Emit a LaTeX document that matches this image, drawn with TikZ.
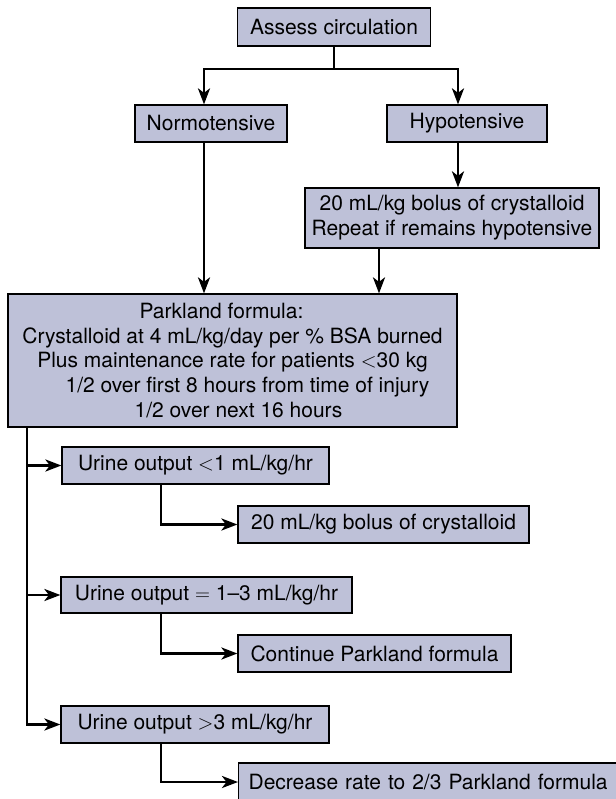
\documentclass[tikz,border=0pt]{standalone}
\usepackage{fontspec}
\setmainfont{TeX Gyre Heros}
\usetikzlibrary{arrows.meta}
\definecolor{boxfill}{RGB}{190,193,216}
\begin{document}
\begin{tikzpicture}[x=1pt,y=-1pt,
  box/.style={draw=black, line width=1.2pt, fill=boxfill, inner sep=0pt,
    font=\fontsize{21}{24.8}\selectfont, align=center},
  conn/.style={line width=2.7pt, line join=miter},
  arr/.style={conn, -{Stealth[length=16pt,width=12pt,inset=4.5pt]}}]
\useasboundingbox[fill=white] (0,0) rectangle (615,799);

\node[box, minimum width=193, minimum height=38] (assess) at (334,27) {Assess circulation};
\node[box, minimum width=152, minimum height=37] (normo) at (211,123.5) {Normotensive};
\node[box, minimum width=160, minimum height=37] (hypo) at (467,123.5) {Hypotensive};
\node[box, minimum width=294, minimum height=60] (bolus) at (452,218)
  {20 mL/kg bolus of crystalloid\\Repeat if remains hypotensive};
\node[box, minimum width=449, minimum height=133] (park) at (232.5,360.5)
  {Parkland formula:\hspace*{22pt}\\
   Crystalloid at 4 mL/kg/day per \% BSA burned\hspace*{10pt}\\
   Plus maintenance rate for patients $<$30 kg\\
   \hspace*{30pt}1/2 over first 8 hours from time of injury\\
   \hspace*{12pt}1/2 over next 16 hours};
\node[box, minimum width=267, minimum height=37] (u1) at (195.5,465.5) {Urine output $<$1 mL/kg/hr};
\node[box, minimum width=291, minimum height=37] (b2) at (383.5,524.5) {20 mL/kg bolus of crystalloid};
\node[box, minimum width=291, minimum height=36] (u2) at (206.5,595) {Urine output $=$ 1–3 mL/kg/hr};
\node[box, minimum width=273, minimum height=37] (cont) at (374.5,653.5) {Continue Parkland formula};
\node[box, minimum width=268, minimum height=37] (u3) at (195,724.5) {Urine output $>$3 mL/kg/hr};
\node[box, anchor=west, minimum height=38, text width=385pt, align=left, inner xsep=10pt] (dec) at (238,782)
  {Decrease rate to 2/3 Parkland formula};

\coordinate (jL) at (204,69);
\coordinate (jR) at (458,69);
\coordinate (jB) at (379,0);
\coordinate (sp) at (27,0);
\coordinate (sd) at (161,0);

\draw[conn] (assess.south) -- (assess.south |- jL);
\draw[arr] (assess.south |- jL) -- (jL) -- (jL |- normo.north);
\draw[arr] (assess.south |- jL) -- (jR) -- (jR |- hypo.north);
\draw[arr] (jL |- normo.south) -- (jL |- park.north);
\draw[arr] (jR |- hypo.south) -- (jR |- bolus.north);
\draw[arr] (jB |- bolus.south) -- (jB |- park.north);

\draw[arr] (sp |- park.south) |- (u3.west);
\draw[arr] (sp |- u1.west) -- (u1.west);
\draw[arr] (sp |- u2.west) -- (u2.west);

\draw[arr] (sd |- u1.south) |- (b2.west);
\draw[arr] (sd |- u2.south) |- (cont.west);
\draw[arr] (sd |- u3.south) |- (dec.west);
\end{tikzpicture}
\end{document}
